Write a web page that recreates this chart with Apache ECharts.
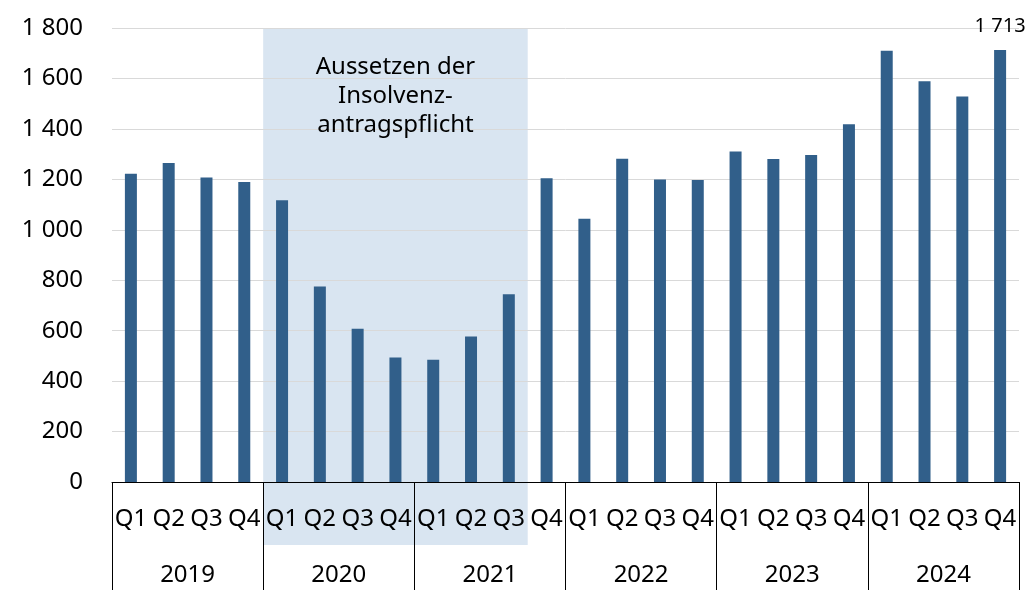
<!DOCTYPE html>
<html>
<head>
<meta charset="utf-8">
<script src="https://cdn.jsdelivr.net/npm/echarts@6/dist/echarts.min.js"></script>
<style>
html,body{margin:0;padding:0;background:#fff;}
#chart{width:1027px;height:590px;}
</style>
</head>
<body>
<div id="chart"></div>
<script>
// Daten
var years = ['2019', '2020', '2021', '2022', '2023', '2024'];
var quarters = ['Q1', 'Q2', 'Q3', 'Q4'];
var values = [
	1222, 1265, 1207, 1189,
	1117, 775, 608, 494,
	485, 577, 744, 1204,
	1044, 1282, 1199, 1197,
	1310, 1281, 1296, 1418,
	1710, 1589, 1528, 1713
];
var shadeFrom = '2020 Q1';			// Aussetzen der Insolvenzantragspflicht
var shadeTo = '2021 Q3';
var noteLines = ['Aussetzen der', 'Insolvenz-', 'antragspflicht'];

var categories = [];
years.forEach(function (y) {
	quarters.forEach(function (q) { categories.push(y + ' ' + q); });
});

// 1 800 statt 1800
function fmt(v) {
	return String(v).replace(/\B(?=(\d{3})+(?!\d))/g, ' ');
}

var font = 'Noto Sans';
var chart = echarts.init(document.getElementById('chart'));
chart.setOption({
	animation: false,
	textStyle: { fontFamily: font },
	grid: { left: 112, right: 8, top: 28, bottom: 108, outerBoundsMode: 'none' },
	xAxis: [
		{
			type: 'category',
			data: categories,
			axisLine: { lineStyle: { color: '#000', width: 1 } },
			axisTick: { show: false },
			axisLabel: {
				interval: 0, margin: 25, fontSize: 24, color: '#000', fontFamily: font,
				formatter: function (v) { return v.split(' ')[1]; }
			}
		},
		{
			type: 'category',
			data: years,
			position: 'bottom',
			axisLine: { show: false },
			axisTick: { show: true, interval: 0, length: 112, lineStyle: { color: '#000', width: 1 } },
			axisLabel: { interval: 0, margin: 81, fontSize: 24, color: '#000', fontFamily: font }
		}
	],
	yAxis: {
		type: 'value',
		min: 0, max: 1800, interval: 200,
		axisLine: { show: false },
		axisTick: { show: false },
		splitLine: { lineStyle: { color: '#d9d9d9', width: 1 } },
		axisLabel: { fontSize: 24, color: '#000', margin: 29, fontFamily: font, formatter: fmt }
	},
	series: [{
		type: 'bar',
		barWidth: 12,
		itemStyle: { color: '#315f8a' },
		data: values.map(function (v, i) {
			if (i === values.length - 1) {
				return {
					value: v,
					label: {
						show: true, position: 'top', distance: 14,
						fontSize: 20, color: '#000', fontFamily: font,
						formatter: function (p) { return fmt(p.value); }
					}
				};
			}
			return v;
		})
	}]
});

// Schattierung aus den Achsen berechnen
var px = function (c) { return chart.convertToPixel({ xAxisIndex: 0 }, c); };
var py = function (v) { return chart.convertToPixel({ yAxisIndex: 0 }, v); };
var band = px(categories[1]) - px(categories[0]);
var x0 = px(shadeFrom) - band / 2;
var x1 = px(shadeTo) + band / 2;
var yTop = py(1800);
var yBot = py(-250);

chart.setOption({
	graphic: [
		{
			type: 'rect', z: -10, silent: true,
			shape: { x: x0, y: yTop, width: x1 - x0, height: yBot - yTop },
			style: { fill: '#d9e5f1' }
		},
		{
			type: 'text', z: 10, silent: true,
			x: (x0 + x1) / 2, y: py(1530),
			style: {
				text: noteLines.join('\n'), fontSize: 24, lineHeight: 29,
				fill: '#000', align: 'center', verticalAlign: 'middle', fontFamily: font
			}
		}
	]
});
</script>
</body>
</html>
